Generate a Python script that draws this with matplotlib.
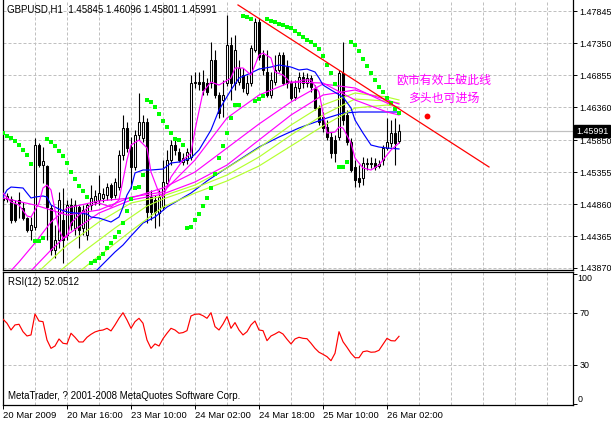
import matplotlib
matplotlib.use("Agg")
import matplotlib.pyplot as plt
import numpy as np

# ---------------- data ----------------
opens = [1.44954,1.44938,1.44938,1.44861,1.44923,1.44799,1.44644,1.44458,1.44504,1.45775,
         1.45465,1.4545,1.44799,1.44148,1.44303,1.44613,1.4438,1.44845,1.44489,1.44814,
         1.44489,1.4438,1.44845,1.44892,1.44923,1.44954,1.45,1.45155,1.45,1.45124,
         1.4562,1.46039,1.45744,1.45434,1.4593,1.45884,1.46132,1.44969,1.44923,1.44721,
         1.44814,1.45186,1.45543,1.45775,1.45667,1.45512,1.45543,1.45589,1.46736,1.46752,
         1.46752,1.46736,1.46736,1.47093,1.4655,1.46473,1.46736,1.47325,1.46736,1.46752,
         1.4686,1.46581,1.46736,1.47248,1.47682,1.4717,1.46907,1.4655,1.46752,1.46938,
         1.4717,1.46984,1.46736,1.46519,1.46659,1.46829,1.46736,1.46814,1.46659,1.46349,
         1.46209,1.46054,1.45899,1.45853,1.45899,1.46891,1.4624,1.45822,1.45434,1.45264,
         1.45264,1.45481,1.45496,1.45496,1.4545,1.45543,1.45729,1.45806,1.45961,1.45845]
highs = [1.45031,1.45031,1.44985,1.44923,1.45047,1.44892,1.44659,1.44659,1.45884,1.45806,
         1.45744,1.45465,1.44845,1.44535,1.45047,1.45109,1.44923,1.44954,1.44923,1.44845,
         1.44845,1.44876,1.45155,1.45078,1.4531,1.45109,1.45186,1.45186,1.45264,1.45698,
         1.4624,1.46132,1.45899,1.46008,1.46581,1.4624,1.46194,1.45078,1.45,1.45078,
         1.45543,1.45698,1.45853,1.45853,1.45729,1.45651,1.45729,1.4686,1.46907,1.46907,
         1.46938,1.46814,1.47372,1.47248,1.46597,1.46783,1.4779,1.47449,1.4748,1.47093,
         1.46969,1.4686,1.47325,1.47744,1.47744,1.47248,1.47248,1.46907,1.4717,1.47217,
         1.47217,1.47093,1.46783,1.46783,1.46907,1.46907,1.46891,1.4686,1.46705,1.46395,
         1.46287,1.46163,1.45977,1.4593,1.46938,1.47372,1.46318,1.45884,1.45543,1.45465,
         1.45589,1.45574,1.45589,1.45574,1.45543,1.45775,1.46194,1.46163,1.46194,1.46096]
lows = [1.44845,1.44892,1.44566,1.44582,1.44644,1.44613,1.44427,1.44303,1.44458,1.45434,
        1.45186,1.44303,1.4407,1.44024,1.44179,1.43946,1.44303,1.44458,1.4438,1.44179,
        1.4438,1.44303,1.44768,1.44845,1.44845,1.44892,1.44923,1.44923,1.44954,1.45078,
        1.45543,1.45667,1.45109,1.45388,1.45853,1.45822,1.44566,1.44613,1.44489,1.4452,
        1.44768,1.4514,1.45465,1.4562,1.45512,1.45465,1.45481,1.45543,1.46659,1.46628,
        1.4655,1.4655,1.46659,1.46504,1.46194,1.46209,1.4669,1.46473,1.46628,1.46705,
        1.46597,1.4655,1.4669,1.47217,1.47093,1.4686,1.46519,1.46504,1.46705,1.46907,
        1.46705,1.46659,1.46473,1.46473,1.46597,1.46659,1.46674,1.46597,1.46318,1.46085,
        1.45977,1.45853,1.45574,1.45512,1.45853,1.46085,1.45775,1.45357,1.45124,1.45124,
        1.45155,1.45388,1.45419,1.45388,1.45419,1.45465,1.45698,1.45744,1.45465,1.45801]
closes = [1.44923,1.44985,1.44613,1.44613,1.44876,1.44644,1.44458,1.44535,1.45775,1.45465,
          1.45527,1.44814,1.44148,1.44303,1.44923,1.44303,1.44845,1.44535,1.44845,1.44458,
          1.44768,1.44845,1.44954,1.44985,1.45031,1.45016,1.45124,1.44969,1.45202,1.4562,
          1.46039,1.45729,1.45434,1.4593,1.46132,1.46132,1.44737,1.44737,1.44737,1.44969,
          1.45202,1.45543,1.45775,1.45698,1.45543,1.45574,1.45667,1.46736,1.46752,1.46721,
          1.46628,1.46597,1.47093,1.4655,1.46271,1.4655,1.47325,1.46736,1.47248,1.46969,
          1.46659,1.46736,1.47279,1.47682,1.47139,1.46938,1.4655,1.46783,1.46938,1.4717,
          1.46736,1.46736,1.46504,1.46674,1.46829,1.46736,1.46814,1.46674,1.46349,1.46132,
          1.46039,1.45899,1.45651,1.45651,1.46891,1.46163,1.45822,1.45388,1.45233,1.45202,
          1.45496,1.45496,1.45481,1.45434,1.45481,1.45729,1.45822,1.45961,1.45806,1.45991]

sar = [1.45961,1.45915,1.45884,1.45838,1.45775,1.45698,1.4562,1.45481,1.44288,1.44288,
       1.44334,1.45869,1.45822,1.4576,1.45683,1.45605,1.45496,1.45357,1.45249,1.4514,
       1.45063,1.44969,1.43946,1.43978,1.44024,1.44086,1.44179,1.44257,1.4435,1.44427,
       1.44566,1.44753,1.44938,1.45109,1.45124,1.4531,1.46473,1.46442,1.46365,1.46256,
       1.46148,1.46054,1.45961,1.45869,1.45853,1.45775,1.44489,1.44504,1.44613,1.44706,
       1.4483,1.44954,1.45109,1.45326,1.45574,1.4576,1.45961,1.46194,1.46395,1.46395,
       1.47775,1.47759,1.47728,1.46457,1.46488,1.46535,1.47728,1.47698,1.47682,1.47651,
       1.47636,1.47605,1.47589,1.47543,1.47496,1.47449,1.47403,1.47372,1.47325,1.47264,
       1.47155,1.47016,1.46891,1.46721,1.45434,1.45434,1.45512,1.47372,1.47325,1.47232,
       1.47108,1.47,1.46891,1.46783,1.46674,1.46597,1.46504,1.46426,1.46334,1.46271]

rsi = [65.2,62.1,56.9,60.8,61.3,55.6,52.3,53.1,69.2,63.8,
       63.3,49.2,42.8,44.6,50.0,46.7,46.2,54.4,51.3,47.7,
       47.7,51.3,53.6,55.4,56.4,56.9,58.2,56.2,60.8,65.9,
       70.2,64.6,58.2,63.3,65.9,62.1,49.2,42.8,46.2,44.6,
       50.2,54.4,58.2,56.9,54.4,54.9,56.4,67.7,69.0,69.2,
       67.9,65.9,70.2,59.5,56.9,61.5,67.2,58.2,62.6,56.9,
       53.1,55.6,60.8,63.8,56.9,56.4,48.7,52.3,53.8,55.6,
       53.8,49.8,46.2,50.0,51.3,50.5,50.2,46.7,42.8,39.8,
       38.2,36.4,33.3,39.0,55.6,47.9,43.6,39.0,35.6,35.6,
       40.2,40.8,39.8,40.0,41.3,45.9,50.5,48.7,48.5,52.05]

# moving averages (bar index, value)
ma_fast_x = [0,2,4,6,7,9,10,11,12,13,14,15,16,17,19,22,24,27,29,31,32,34,36,37,39,40,42,45,47,48,
             50,52,54,57,58,60,62,64,65,67,68,70,72,75,77,79,80,81,83,84,85,87,88,90,92,94,95,97,99]
ma_fast_y = [1.45031,1.44892,1.44845,1.44675,1.44659,1.44876,1.45109,1.45155,1.45078,1.44768,
             1.44458,1.44334,1.4435,1.44566,1.4469,1.44845,1.44876,1.44814,1.44923,1.45543,
             1.45775,1.45853,1.45729,1.45357,1.45031,1.44969,1.4528,1.45543,1.45651,1.46008,
             1.46597,1.46752,1.46705,1.46814,1.46969,1.46969,1.4686,1.4717,1.47201,1.47124,
             1.46907,1.4686,1.46736,1.46783,1.46783,1.46597,1.46271,1.45961,1.45977,1.46054,
             1.46039,1.45806,1.45574,1.45419,1.45388,1.45465,1.45543,1.45698,1.45806]

ma_blue_x = [0,1,2,5,6,7,8,10,11,12,14,16,18,21,22,24,27,29,30,31,32,33,35,37,40,42,44,47,49,52,
             54,57,59,62,64,67,69,72,74,76,78,79,80,82,85,87,88,90,92,94,96,99]
ma_blue_y = [1.44969,1.45078,1.45124,1.45109,1.45031,1.44954,1.44969,1.44985,1.44969,1.44845,
             1.44783,1.44737,1.44721,1.44706,1.44659,1.44644,1.44582,1.44659,1.44814,1.45,
             1.45109,1.45342,1.45388,1.45388,1.45403,1.45496,1.45512,1.45574,1.45698,1.46008,
             1.46318,1.46628,1.46814,1.46891,1.46953,1.46984,1.47016,1.46984,1.46938,1.46953,
             1.46907,1.46814,1.46705,1.46628,1.46519,1.46349,1.46163,1.45961,1.45775,1.45744,
             1.45729,1.45714]

ma_slow_blue_x = [22,24,26,28,30,32,35,38,41,44,47,49,51,54,59,64,69,74,76,81,85,89,99]
ma_slow_blue_y = [1.43745,1.43869,1.43993,1.44117,1.44225,1.44365,1.44566,1.44659,1.44814,1.44923,
                  1.45031,1.45124,1.45218,1.45342,1.45543,1.45744,1.45899,1.46039,1.46085,1.46194,
                  1.46271,1.46287,1.46287]

mag2_x = [0,8,16,24,32,40,48,56,64,72,80,88,96,99]
mag2_y = [1.44954,1.44845,1.4469,1.44768,1.44969,1.45047,1.45543,1.46194,1.4655,1.46752,
          1.46736,1.46473,1.46287,1.4624]
mag3_x = [1,4,8,12,16,24,32,40,48,56,64,72,80,88,96,99]
mag3_y = [1.43761,1.43962,1.44257,1.44582,1.44799,1.44908,1.44954,1.45109,1.45357,1.45729,
          1.46101,1.46442,1.46721,1.46659,1.46426,1.46349]
mag4_x = [6,12,16,24,32,40,48,56,64,72,80,88,96,99]
mag4_y = [1.43761,1.44148,1.4438,1.44721,1.44923,1.45016,1.45202,1.45465,1.45853,1.4624,
          1.4655,1.46628,1.46473,1.46411]
yg1_x = [8,16,24,32,40,48,56,64,72,80,88,96,99]
yg1_y = [1.43761,1.44225,1.44582,1.44876,1.44985,1.45155,1.45419,1.45729,1.46085,1.46395,
         1.46581,1.46519,1.46473]
yg2_x = [13,20,28,36,40,48,56,64,72,80,88,96,99]
yg2_y = [1.43761,1.44117,1.44489,1.4483,1.44938,1.45109,1.4531,1.45589,1.4593,1.4624,
         1.46488,1.46457,1.46426]
yg3_x = [18,24,32,40,48,56,64,72,80,88,96,99]
yg3_y = [1.43761,1.44055,1.44443,1.44814,1.45031,1.45218,1.4545,1.4576,1.4607,1.46349,
         1.46395,1.46365]

trend_x = [58.75, 121.5]
trend_y = [1.47946, 1.45435]
dot_x, dot_y = 106.1, 1.46225

price_ticks = [1.47845, 1.47350, 1.46855, 1.46360, 1.45850, 1.45355, 1.44860, 1.44365, 1.43870]
time_ticks = [0, 16, 32, 48, 64, 80, 96]
time_labels = ["20 Mar 2009", "20 Mar 16:00", "23 Mar 10:00", "24 Mar 02:00",
               "24 Mar 18:00", "25 Mar 10:00", "26 Mar 02:00"]
bid = 1.45991
rsi_last = 52.0512
title = "GBPUSD,H1  1.45845 1.46096 1.45801 1.45991"
note1 = "欧市有效上破此线"
note2 = "多头也可进场"

# ---------------- figure ----------------
W, H = 611, 422
fig = plt.figure(figsize=(W / 100, H / 100), dpi=100, facecolor="white")
FONT = "Liberation Sans"
GRID = "#c0c0c0"
AXFS = 6.4

left = 2.5 / W
width = (573 - 2.5) / W
ax = fig.add_axes([left, (H - 270) / H, width, 270 / H])
ax2 = fig.add_axes([left, (H - 405) / H, width, (405 - 272) / H], sharex=ax)

n = len(opens)
idx = np.arange(n)
ax.set_xlim(-0.125, 142.5)
ax.set_ylim(1.43838, 1.48023)
ax2.set_ylim(-0.77, 101.5)

for a in (ax, ax2):
    a.set_xticks(np.arange(0, 143, 8), minor=True)
    a.set_xticks(time_ticks)
    a.grid(True, axis="x", which="both", color=GRID, linestyle=(0, (3, 2)), linewidth=0.72, zorder=0)
    for s in a.spines.values():
        s.set_linewidth(0.9)
        s.set_color("black")
    a.tick_params(axis="both", which="both", labelsize=AXFS, length=3, width=0.7, direction="out", pad=1.5)
    a.tick_params(axis="x", which="minor", length=0)
    a.yaxis.tick_right()
    a.set_axisbelow(True)

ax.spines["top"].set_visible(False)
ax.set_yticks(price_ticks)
ax.set_yticklabels([f"{v:.5f}" for v in price_ticks], fontfamily=FONT, fontsize=AXFS)
ax.grid(True, axis="y", color=GRID, linestyle=(0, (3, 2)), linewidth=0.72, zorder=0)
ax.tick_params(axis="x", which="both", bottom=False, labelbottom=False)

# bid line
ax.axhline(bid, color="#c0c0c0", linewidth=0.9, zorder=1)

# candles
o = np.array(opens); c = np.array(closes)
ax.vlines(idx, np.array(lows), np.array(highs), color="black", linewidth=0.8, zorder=2)
body_bottom = np.minimum(o, c)
body_h = np.maximum(np.abs(c - o), 0.00003)
colors = ["white" if cc > oo else "black" for oo, cc in zip(o, c)]
ax.bar(idx, body_h, bottom=body_bottom, width=0.5, color=colors, edgecolor="black",
       linewidth=0.75, zorder=3)

# moving averages
lw = 0.85
ax.plot(ma_slow_blue_x, ma_slow_blue_y, color="#0000ff", lw=lw, zorder=4)
for xs, ys in ((yg3_x, yg3_y), (yg2_x, yg2_y), (yg1_x, yg1_y)):
    ax.plot(xs, ys, color="#b4ff30", lw=lw, zorder=4)
for xs, ys in ((mag4_x, mag4_y), (mag3_x, mag3_y), (mag2_x, mag2_y)):
    ax.plot(xs, ys, color="#ff00ff", lw=lw, zorder=4)
ax.plot(ma_blue_x, ma_blue_y, color="#0000ff", lw=lw, zorder=5)
ax.plot(ma_fast_x, ma_fast_y, color="#ff00ff", lw=lw, zorder=5)

# parabolic SAR
ax.plot(idx, sar, linestyle="none", marker="s", markersize=2.9, color="#00ff00",
        markeredgewidth=0, zorder=6)

# trend line, dot, notes
ax.plot(trend_x, trend_y, color="#ff0000", lw=0.9, zorder=6)
ax.plot([dot_x], [dot_y], marker="o", markersize=4.2, color="#ff0000", markeredgewidth=0, zorder=6)
cjk = ["Noto Sans CJK SC", "DejaVu Sans"]
ax.text(110.25, 1.46783, note1, color="#ff00ff", fontsize=8.6, family=cjk, ha="center", va="center", zorder=7)
ax.text(110.25, 1.46504, note2, color="#ff00ff", fontsize=8.6, family=cjk, ha="center", va="center", zorder=7)

# bid label
ax.text(1.0 + 3 / 570.5, bid, f"{bid:.5f}", transform=ax.get_yaxis_transform(), color="white",
        fontsize=AXFS, fontfamily=FONT, ha="left", va="center", clip_on=False, zorder=10,
        bbox=dict(boxstyle="square,pad=0.2", fc="black", ec="black"))

fig.text(7 / W, 1 - 10 / H, title, fontsize=7, fontfamily=FONT, ha="left", va="center")

# RSI panel
ax2.plot(idx, rsi, color="#ff0000", lw=0.85, zorder=3)
ax2.axhline(70, color=GRID, linestyle=(0, (3, 2)), linewidth=0.72, zorder=0)
ax2.axhline(30, color=GRID, linestyle=(0, (3, 2)), linewidth=0.72, zorder=0)
ax2.set_yticks([0, 30, 70, 100])
ax2.set_yticklabels(["", "30", "70", ""], fontfamily=FONT, fontsize=AXFS)
ytr = ax2.get_yaxis_transform()
ax2.text(1.0 + 4.5 / 570.5, 100, "100", transform=ytr, fontsize=AXFS, fontfamily=FONT, ha="left", va="top", clip_on=False)
ax2.text(1.0 + 4.5 / 570.5, 0, "0", transform=ytr, fontsize=AXFS, fontfamily=FONT, ha="left", va="bottom", clip_on=False)
ax2.set_xticklabels(time_labels, fontfamily=FONT, fontsize=6.8, ha="left")
ax2.text(6 / 570.5, 1 - 10 / 133, f"RSI(12) {rsi_last:.4f}", transform=ax2.transAxes, fontsize=7,
         fontfamily=FONT, ha="left", va="center")
ax2.text(6 / 570.5, 9 / 133, "MetaTrader, ? 2001-2008 MetaQuotes Software Corp.", transform=ax2.transAxes,
         fontsize=7, fontfamily=FONT, ha="left", va="center")

fig.savefig("out.png", dpi=100, facecolor="white")
